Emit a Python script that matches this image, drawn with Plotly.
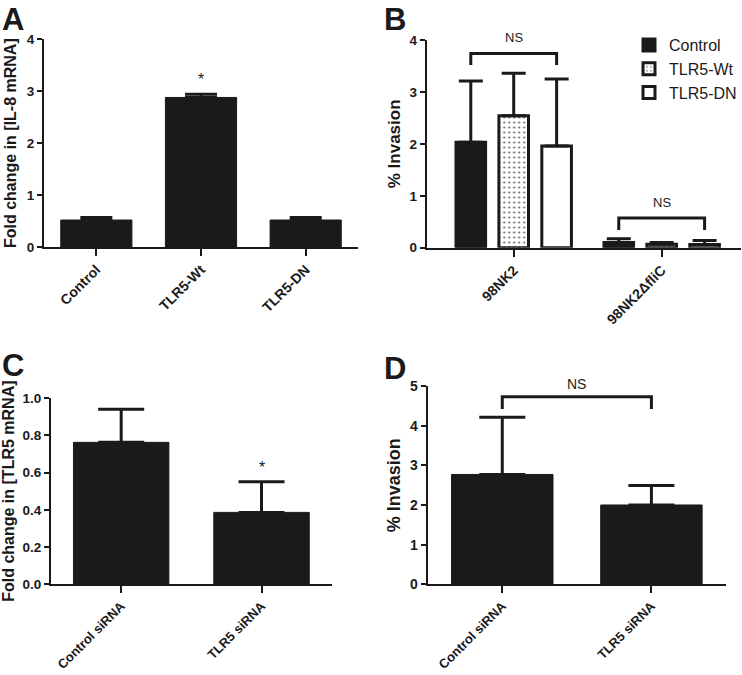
import plotly.graph_objects as go

# ---------------- data ----------------
a_cats = ["Control", "TLR5-Wt", "TLR5-DN"]
a_vals = [0.52, 2.88, 0.52]
a_err = [0.05, 0.06, 0.05]

b_groups = ["98NK2", "98NK2\u0394fliC"]
b_series = ["Control", "TLR5-Wt", "TLR5-DN"]
b_control = [2.03, 0.10]
b_control_err = [1.18, 0.07]
b_wt = [2.54, 0.065]
b_wt_err = [0.82, 0.035]
b_dn = [1.96, 0.06]
b_dn_err = [1.29, 0.08]

c_cats = ["Control siRNA", "TLR5 siRNA"]
c_vals = [0.762, 0.386]
c_err = [0.177, 0.165]

d_cats = ["Control siRNA", "TLR5 siRNA"]
d_vals = [2.77, 2.00]
d_err = [1.44, 0.49]

# ---------------- style ----------------
INK = "#1a1a1a"
FONT = "Arial, Liberation Sans, sans-serif"
BARGAP = 0.13
GROUPGAP = 0.31

fig = go.Figure()

def solid_bar(x, y, err, xa, ya, width, capw):
    return go.Bar(
        x=x, y=y, xaxis=xa, yaxis=ya, width=width,
        marker=dict(color=INK, line=dict(color=INK, width=1)),
        error_y=dict(type="data", array=err, arrayminus=[0] * len(err),
                     symmetric=False, color=INK, thickness=3, width=capw),
        showlegend=False,
    )

fig.add_trace(solid_bar(a_cats, a_vals, a_err, "x", "y", 0.68, 16))

b_styles = [
    dict(color=INK, line=dict(color=INK, width=3)),
    dict(color="white", line=dict(color=INK, width=3),
         pattern=dict(shape=".", size=5, solidity=0.12, fgcolor="#555555", bgcolor="white")),
    dict(color="white", line=dict(color=INK, width=3)),
]
b_vals = [b_control, b_wt, b_dn]
b_errs = [b_control_err, b_wt_err, b_dn_err]
for name, vals, errs, st in zip(b_series, b_vals, b_errs, b_styles):
    fig.add_trace(go.Bar(
        x=b_groups, y=vals, name=name, xaxis="x2", yaxis="y2",
        marker=st,
        error_y=dict(type="data", array=errs, arrayminus=[0] * len(errs),
                     symmetric=False, color=INK, thickness=3, width=12),
    ))

fig.add_trace(solid_bar(c_cats, c_vals, c_err, "x3", "y3", 0.68, 23))
fig.add_trace(solid_bar(d_cats, d_vals, d_err, "x4", "y4", 0.68, 23))

def xax(domain, rng, anchor, size):
    return dict(domain=domain, range=rng, anchor=anchor, type="category",
                showline=True, linecolor=INK, linewidth=2, automargin=False,
                ticks="outside", ticklen=7, tickwidth=2, tickcolor=INK,
                tickangle=-45, tickfont=dict(family=FONT, size=size, color=INK, weight="bold"),
                showgrid=False, zeroline=False, fixedrange=True)

def yax(domain, rng, anchor, dtick, title, tsize, lsize, fmt=None, standoff=6):
    d = dict(domain=domain, range=rng, anchor=anchor, dtick=dtick,
             showline=True, linecolor=INK, linewidth=2, automargin=False,
             ticks="outside", ticklen=5, tickwidth=2, tickcolor=INK,
             tickfont=dict(family=FONT, size=lsize, color=INK, weight="bold"),
             title=dict(text=title, font=dict(family=FONT, size=tsize, color=INK, weight="bold"),
                        standoff=standoff),
             showgrid=False, zeroline=False, fixedrange=True)
    if fmt:
        d["tickformat"] = fmt
    return d

W, H = 742, 675
def px_x(a, b):
    return [a / W, b / W]
def px_y(top, bottom):
    return [1 - bottom / H, 1 - top / H]

fig.update_layout(
    template="none",
    width=W, height=H, margin=dict(l=0, r=0, t=0, b=0, pad=0, autoexpand=False),
    paper_bgcolor="white", plot_bgcolor="white",
    barmode="group", bargap=BARGAP, bargroupgap=GROUPGAP,
    font=dict(family=FONT, color=INK),
    xaxis=xax(px_x(44, 358), [-0.5, 2.5], "y", 14),
    yaxis=yax(px_y(39.3, 247), [0, 4], "x", 1, "Fold change in [IL-8 mRNA]", 16, 13.5),
    xaxis2=xax(px_x(426.7, 741), [-0.588, 1.536], "y2", 14),
    yaxis2=yax(px_y(40, 247.7), [0, 4], "x2", 1, "% Invasion", 17, 13.5, standoff=5),
    xaxis3=xax(px_x(51, 331.7), [-0.5, 1.5], "y3", 13),
    yaxis3=yax(px_y(398, 584.3), [0, 1.0], "x3", 0.2, "Fold change in [TLR5 mRNA]", 16, 13.5, ".1f",
               standoff=4),
    xaxis4=xax(px_x(427.7, 726), [-0.5, 1.5], "y4", 13),
    yaxis4=yax(px_y(386, 584.3), [0, 5], "x4", 1, "% Invasion", 18, 14, standoff=5),
    legend=dict(x=629 / W, y=1 - 28 / H, xanchor="left", yanchor="top",
                font=dict(family=FONT, size=16, color=INK), bgcolor="rgba(0,0,0,0)",
                tracegroupgap=0),
)

# significance brackets
slot = (1 - BARGAP) / 3
def bracket(xa, ya, x0, x1, ytop, yleg):
    fig.add_shape(type="path", xref=xa, yref=ya,
                  path=f"M {x0} {yleg} L {x0} {ytop} L {x1} {ytop} L {x1} {yleg}",
                  line=dict(color=INK, width=3))

bracket("x2", "y2", 0 - slot, 0 + slot, 3.74, 3.52)
bracket("x2", "y2", 1 - slot, 1 + slot, 0.57, 0.34)
bracket("x4", "y4", 0, 1, 4.73, 4.42)

def label(xa, ya, x, y, text, size):
    fig.add_annotation(xref=xa, yref=ya, x=x, y=y, text=text, showarrow=False,
                       font=dict(family=FONT, size=size, color=INK), yanchor="middle")

# positions above an axis top are given in axis-domain fractions
label("x2", "y2 domain", 0, 4.04 / 4, "NS", 13)
label("x2", "y2", 1, 0.87, "NS", 13)
label("x4", "y4 domain", 0.5, 5.06 / 5, "NS", 14)
label("x", "y", 1, 3.22, "*", 16)
label("x3", "y3", 1, 0.625, "*", 16)

# panel letters
for txt, x, y in [("A", 0, 0), ("B", 382 / W, 0), ("C", 0, 346), ("D", 382 / W, 349)]:
    fig.add_annotation(xref="paper", yref="paper", x=x, y=1 - y / H, text=txt, showarrow=False,
                       xanchor="left", yanchor="top",
                       font=dict(family=FONT, size=31, color=INK, weight="bold"))

fig.write_html("out.html", config={"displayModeBar": False},
               post_script="document.body.style.margin='0';")
